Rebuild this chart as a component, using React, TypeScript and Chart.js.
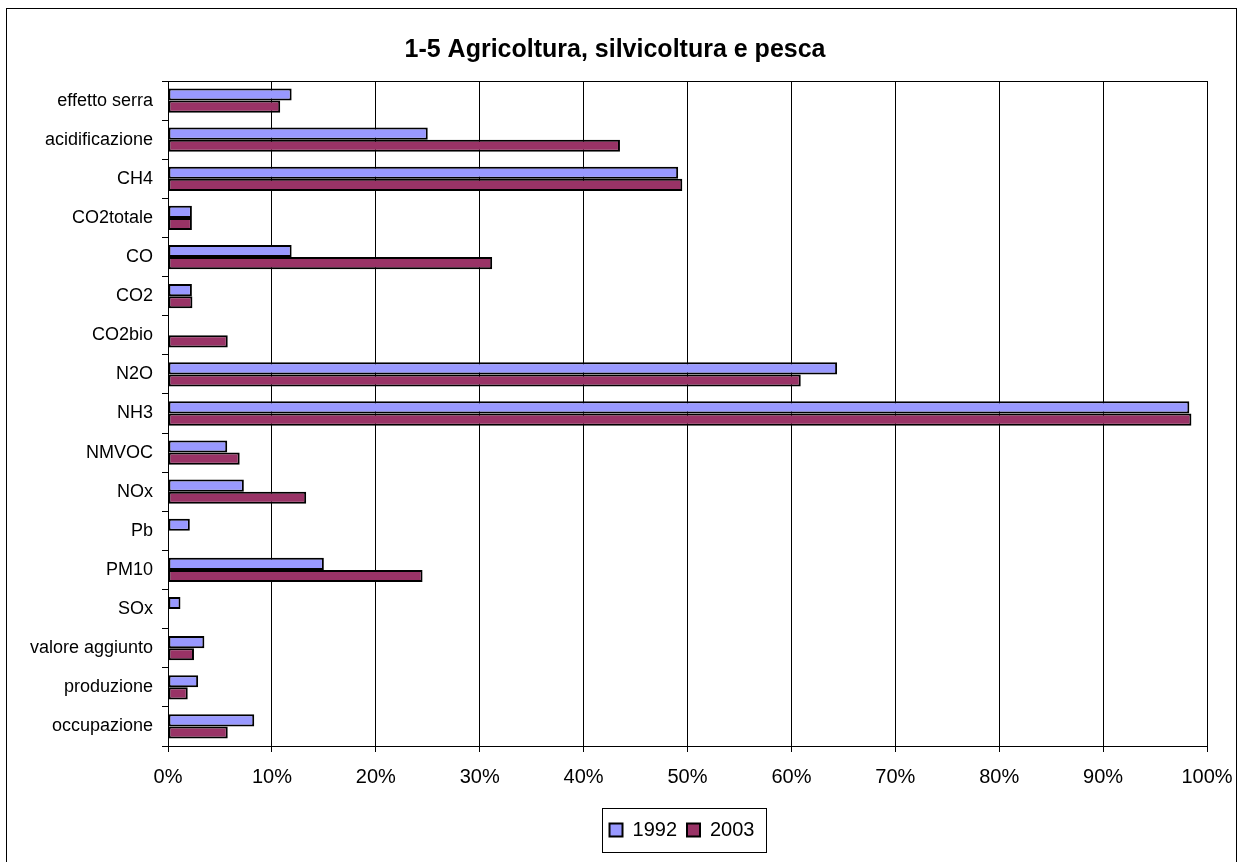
import React, { useEffect, useRef } from "react";
import { Chart, registerables } from "chart.js";

Chart.register(...registerables);

const categories = [
  "effetto serra",
  "acidificazione",
  "CH4",
  "CO2totale",
  "CO",
  "CO2",
  "CO2bio",
  "N2O",
  "NH3",
  "NMVOC",
  "NOx",
  "Pb",
  "PM10",
  "SOx",
  "valore aggiunto",
  "produzione",
  "occupazione",
];

const values1992 = [11.9, 25.0, 49.1, 2.3, 11.9, 2.3, 0, 64.4, 98.3, 5.7, 7.3, 2.1, 15.0, 1.2, 3.5, 2.9, 8.3];
const values2003 = [10.8, 43.5, 49.5, 2.3, 31.2, 2.35, 5.75, 60.9, 98.5, 6.9, 13.3, 0, 24.5, 0, 2.5, 1.9, 5.75];

const xTicks = [0, 10, 20, 30, 40, 50, 60, 70, 80, 90, 100];

const FONT = '"Liberation Sans", Arial, sans-serif';

const TITLE_CENTER_X = 615;
const LEGEND_CENTER_X = 682;

const framePlugin = {
  id: "frames",
  afterLayout(chart: any) {
    const tb = chart.titleBlock;
    if (tb) {
      const off = TITLE_CENTER_X - (tb.left + tb.right) / 2;
      tb.left += off;
      tb.right += off;
    }
    const lg = chart.legend;
    if (lg) {
      const off = LEGEND_CENTER_X - (lg.left + lg.right) / 2;
      lg.left += off;
      lg.right += off;
    }
  },
  beforeDatasetsDraw(chart: any) {
    const { ctx, chartArea } = chart;
    ctx.save();
    ctx.strokeStyle = "#000";
    ctx.lineWidth = 1;
    ctx.strokeRect(
      Math.round(chartArea.left) + 0.5,
      Math.round(chartArea.top) + 0.5,
      Math.round(chartArea.right - chartArea.left),
      Math.round(chartArea.bottom - chartArea.top)
    );
    ctx.restore();
  },
  afterDraw(chart: any) {
    const lg = chart.legend;
    if (!lg || !lg.legendHitBoxes || !lg.legendHitBoxes.length) return;
    const boxes = lg.legendHitBoxes;
    const first = boxes[0];
    const last = boxes[boxes.length - 1];
    const cy = first.top + first.height / 2;
    const left = Math.round(first.left - 8);
    const right = Math.round(last.left + last.width + 12);
    const top = Math.round(cy - 22);
    const bottom = Math.round(cy + 22);
    const { ctx } = chart;
    ctx.save();
    ctx.strokeStyle = "#000";
    ctx.lineWidth = 1;
    ctx.strokeRect(left + 0.5, top + 0.5, right - left, bottom - top);
    ctx.restore();
  },
};

export default function App() {
  const ref = useRef<HTMLCanvasElement>(null);

  useEffect(() => {
    document.body.style.overflow = "hidden";
    const canvas = ref.current;
    if (!canvas) return;
    const chart = new Chart(canvas, {
      type: "bar",
      data: {
        labels: categories,
        datasets: [
          {
            label: "1992",
            data: values1992,
            backgroundColor: "#9999FF",
            borderColor: "#000",
            borderWidth: 2,
            borderSkipped: false,
            categoryPercentage: 0.62,
            barPercentage: 1.0,
          },
          {
            label: "2003",
            data: values2003,
            backgroundColor: "#993366",
            borderColor: "#000",
            borderWidth: 2,
            borderSkipped: false,
            categoryPercentage: 0.62,
            barPercentage: 1.0,
          },
        ],
      },
      options: {
        indexAxis: "y",
        responsive: false,
        animation: false,
        layout: { padding: { top: 20, left: 0, right: 31, bottom: 12 } },
        plugins: {
          title: {
            display: true,
            text: "1-5 Agricoltura, silvicoltura e pesca",
            color: "#000",
            font: { family: FONT, size: 25, weight: "bold" },
            padding: { top: 15.5, bottom: 15.5 },
          },
          legend: {
            display: true,
            position: "bottom",
            labels: {
              boxWidth: 13,
              boxHeight: 13,
              padding: 10,
              color: "#000",
              font: { family: FONT, size: 20 },
            },
          },
          tooltip: { enabled: false },
        },
        scales: {
          x: {
            type: "linear",
            min: 0,
            max: 100,
            afterFit(scale: any) {
              scale.height = 64;
              scale.paddingRight = 0;
              scale.paddingLeft = 0;
            },
            afterBuildTicks(scale: any) {
              scale.ticks = xTicks.map((v) => ({ value: v }));
            },
            ticks: {
              stepSize: 10,
              color: "#000",
              padding: 13,
              font: { family: FONT, size: 20 },
              callback: (v: any) => v + "%",
            },
            grid: { color: "#000", lineWidth: 1, tickLength: 6, drawTicks: true },
            border: { display: true, color: "#000" },
          },
          y: {
            type: "category",
            afterFit(scale: any) {
              scale.width = 168;
            },
            ticks: {
              color: "#000",
              padding: 9,
              font: { family: FONT, size: 18 },
            },
            grid: {
              display: true,
              drawOnChartArea: false,
              drawTicks: true,
              tickLength: 6,
              color: "#000",
              offset: true,
            },
            border: { display: true, color: "#000" },
          },
        },
      },
      plugins: [framePlugin],
    } as any);
    return () => chart.destroy();
  }, []);

  return (
    <>
      <div
        style={{
          position: "fixed",
          left: 6,
          top: 8,
          width: 1229,
          height: 900,
          border: "1px solid #000",
          boxSizing: "content-box",
          background: "#fff",
        }}
      />
      <canvas
        ref={ref}
        width={1238}
        height={862}
        style={{ position: "fixed", left: 0, top: 0, width: 1238, height: 862 }}
      />
    </>
  );
}
